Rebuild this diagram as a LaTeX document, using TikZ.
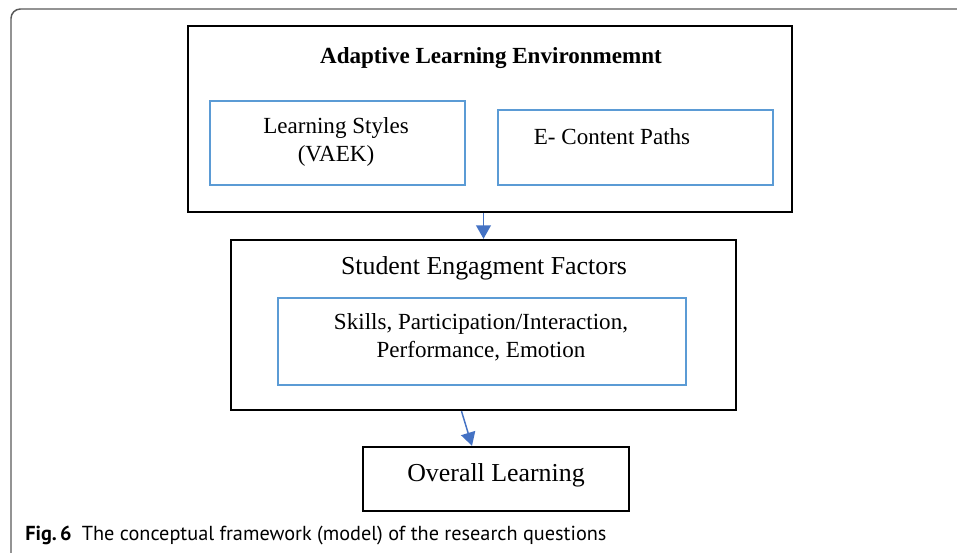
\documentclass[tikz,border=0pt]{standalone}
\usepackage{fontspec}
\setmainfont{Liberation Serif}
\newfontfamily\capfont{PT Sans}
\usetikzlibrary{arrows.meta,calc}
\definecolor{boxblue}{RGB}{91,155,213}
\definecolor{flowblue}{RGB}{68,114,196}
\begin{document}
\begin{tikzpicture}[x=0.75pt,y=-0.75pt,>={Triangle[width=11pt,length=10pt]},
        outerbox/.style={rectangle,draw=black,line width=1.8pt,inner sep=0pt},
        innerbox/.style={rectangle,draw=boxblue,line width=1.1pt,inner sep=0pt},
        lbl/.style={align=center,inner sep=0pt,font=\fontsize{17.3}{21}\selectfont},
        biglbl/.style={lbl,font=\fontsize{19.4}{23}\selectfont},
        flow/.style={->,draw=flowblue,fill=flowblue,line width=1.1pt}]
        \useasboundingbox (0,0) rectangle (957,553);
        \draw[black!65,line width=1.1pt,rounded corners=7pt] (11,553) -- (11,9) -- (957,9);
        \node[outerbox,minimum width=453pt,minimum height=139.5pt]     (env) at (490,119) {};
        \node[innerbox,minimum width=191.25pt,minimum height=63pt]     (styles) at (337.5,143) {};
        \node[innerbox,minimum width=206.25pt,minimum height=56.25pt]  (paths) at (635.5,147.5) {};
        \node[outerbox,minimum width=378.75pt,minimum height=127.5pt]  (eng) at (483.5,325) {};
        \node[innerbox,minimum width=306pt,minimum height=65.25pt]     (factors) at (482,341.5) {};
        \node[outerbox,minimum width=199.5pt,minimum height=48pt]      (overall) at (496,479) {};
        \node[lbl,font=\fontsize{17.3}{21}\selectfont\bfseries] (envtitle) at (491,58) {Adaptive Learning Environmemnt};
        \node[lbl] (stylestext) at (336,142) {Learning Styles\\(VAEK)};
        \node[lbl] (pathstext) at (612,137) {E- Content Paths};
        \node[biglbl] (engtitle) at (484,268) {Student Engagment Factors};
        \node[lbl] (factorstext) at (481,337) {Skills, Participation/Interaction,\\Performance, Emotion};
        \node[biglbl] (overalltext) at (496,475) {Overall Learning};
        \node[anchor=base west,inner sep=0pt,font=\capfont\fontsize{15.2}{18}\selectfont] (caption) at (25,540)
          {\textbf{Fig.\,6}\enspace The conceptual framework (model) of the research questions};
        \coordinate (envout) at (eng.north |- env.south);
        \coordinate (engout) at ($(eng.south)+(-22,0)$);
        \coordinate (overallin) at ($(overall.north)+(-24,0)$);
        \path
          (envout) edge[flow] (eng.north)
          (engout) edge[flow] (overallin)
          ;
      \end{tikzpicture}
\end{document}
